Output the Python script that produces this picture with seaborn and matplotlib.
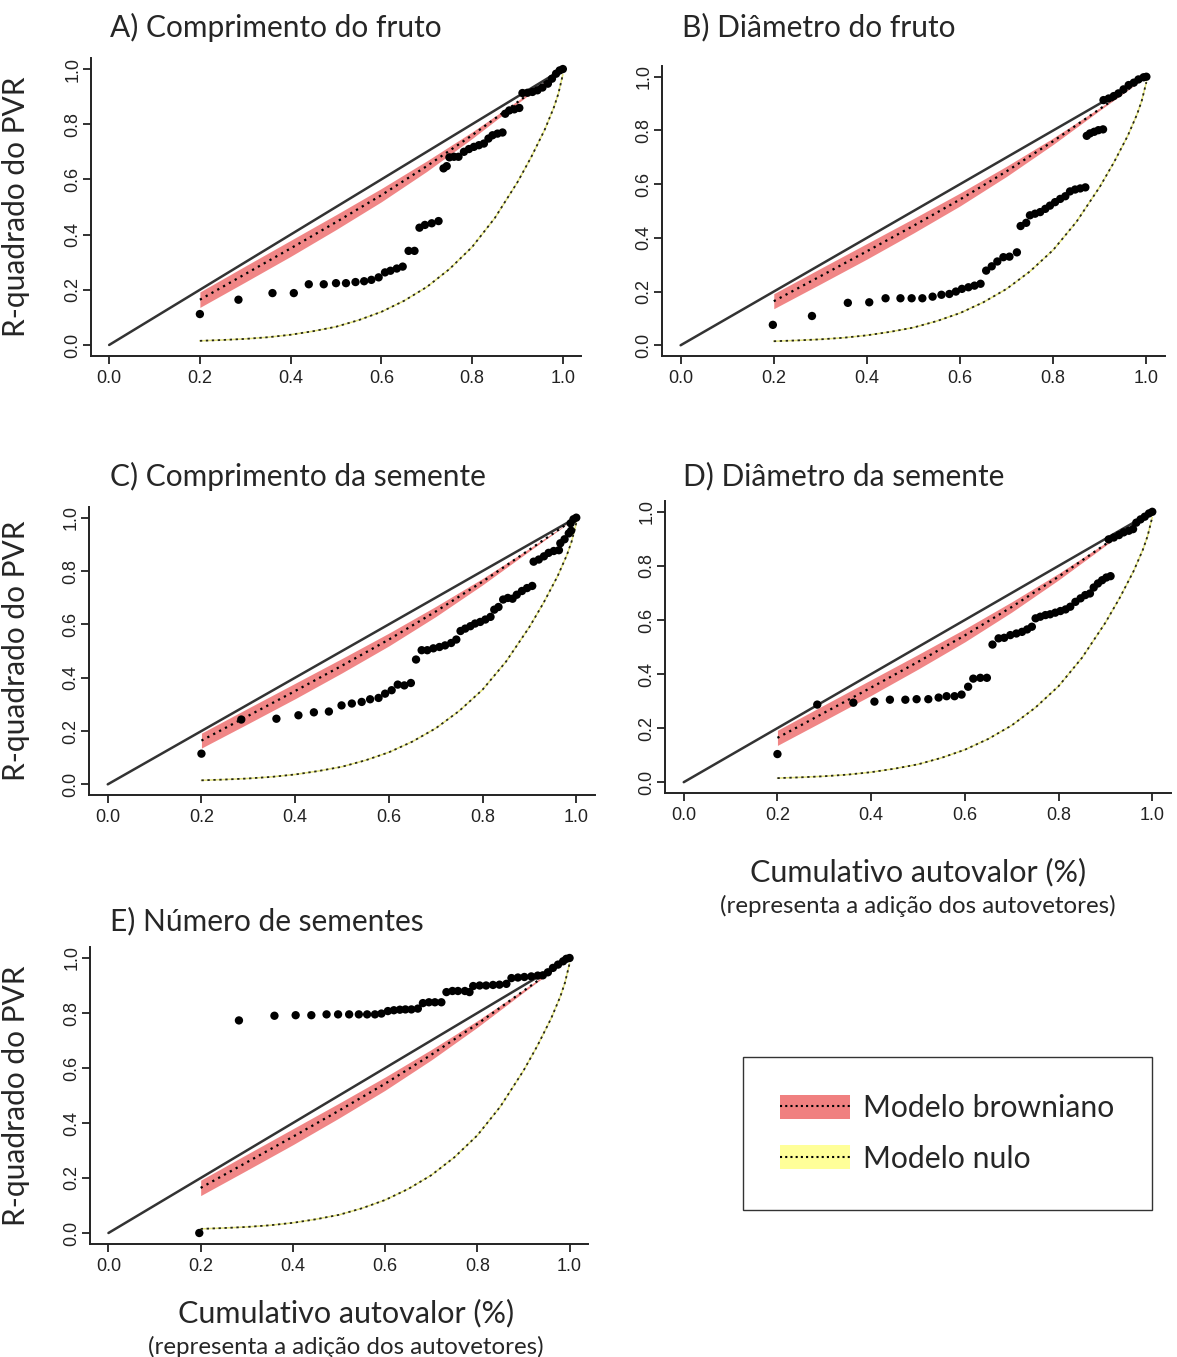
import pandas as pd
import seaborn as sns
import matplotlib.pyplot as plt
from matplotlib.patches import Patch
from matplotlib.lines import Line2D

sns.set_style('ticks')
plt.rcParams['font.family'] = ['Liberation Sans', 'DejaVu Sans']
plt.rcParams['axes.linewidth'] = 1.4

W, H = 1177, 1357
LABEL_FONT = ['Lato', 'DejaVu Sans']

titles = ['A) Comprimento do fruto', 'B) Diâmetro do fruto',
          'C) Comprimento da semente', 'D) Diâmetro da semente',
          'E) Número de sementes']
tick_vals = [0.0, 0.2, 0.4, 0.6, 0.8, 1.0]
tick_labels = ['0.0', '0.2', '0.4', '0.6', '0.8', '1.0']

# expected R2 under brownian motion (centre and half width of the band)
brown_x = [0.2, 0.3, 0.4, 0.5, 0.6, 0.7, 0.8, 0.9, 1.0]
brown_y = [0.164, 0.257, 0.35, 0.445, 0.543, 0.648, 0.76, 0.88, 1.0]
brown_hw = [0.028, 0.029, 0.029, 0.027, 0.024, 0.019, 0.012, 0.005, 0.0]

# expected R2 under the null model
null_x = [0.2, 0.25, 0.3, 0.35, 0.4, 0.45, 0.5, 0.55, 0.6, 0.65, 0.7, 0.75, 0.8,
          0.85, 0.9, 0.93, 0.96, 0.98, 0.99, 1.0]
null_y = [0.015, 0.018, 0.022, 0.028, 0.037, 0.05, 0.066, 0.09, 0.12, 0.16, 0.21,
          0.275, 0.355, 0.46, 0.59, 0.68, 0.78, 0.86, 0.91, 0.98]

# observed PVR R2 (cumulative eigenvalue, R2)
a_x = [0.2, 0.285, 0.36, 0.407, 0.44, 0.473, 0.5, 0.522, 0.543, 0.562, 0.578, 0.594,
       0.608, 0.62, 0.634, 0.647, 0.66, 0.673, 0.684, 0.696, 0.711, 0.726, 0.737, 0.744,
       0.75, 0.76, 0.77, 0.782, 0.793, 0.804, 0.815, 0.826, 0.836, 0.845, 0.856, 0.867,
       0.873, 0.882, 0.893, 0.904, 0.911, 0.922, 0.933, 0.944, 0.955, 0.967, 0.976,
       0.985, 0.993, 1.0]
a_y = [0.112, 0.164, 0.188, 0.188, 0.22, 0.22, 0.224, 0.224, 0.228, 0.231, 0.236, 0.245,
       0.263, 0.269, 0.277, 0.284, 0.341, 0.341, 0.425, 0.435, 0.441, 0.449, 0.64, 0.648,
       0.68, 0.682, 0.682, 0.70, 0.71, 0.718, 0.724, 0.73, 0.748, 0.76, 0.766, 0.77,
       0.838, 0.85, 0.854, 0.859, 0.913, 0.914, 0.917, 0.923, 0.933, 0.947, 0.965,
       0.983, 0.995, 1.0]

b_x = [0.198, 0.282, 0.359, 0.405, 0.44, 0.472, 0.496, 0.519, 0.541, 0.56, 0.577, 0.591,
       0.604, 0.618, 0.631, 0.644, 0.656, 0.668, 0.68, 0.693, 0.706, 0.722, 0.73, 0.742,
       0.75, 0.761, 0.772, 0.783, 0.793, 0.804, 0.815, 0.826, 0.836, 0.847, 0.858, 0.869,
       0.872, 0.879, 0.888, 0.897, 0.907, 0.908, 0.919, 0.93, 0.94, 0.951, 0.962, 0.973,
       0.983, 0.994, 1.0]
b_y = [0.076, 0.109, 0.158, 0.16, 0.175, 0.175, 0.175, 0.175, 0.181, 0.188, 0.191, 0.2,
       0.21, 0.216, 0.222, 0.229, 0.278, 0.294, 0.312, 0.328, 0.33, 0.346, 0.444, 0.456,
       0.484, 0.49, 0.496, 0.508, 0.52, 0.533, 0.545, 0.555, 0.573, 0.58, 0.584, 0.588,
       0.78, 0.789, 0.795, 0.801, 0.804, 0.913, 0.919, 0.928, 0.938, 0.953, 0.969, 0.978,
       0.99, 0.998, 1.0]

c_x = [0.2, 0.285, 0.36, 0.407, 0.44, 0.472, 0.499, 0.521, 0.542, 0.56, 0.578, 0.592,
       0.606, 0.619, 0.633, 0.647, 0.658, 0.67, 0.682, 0.695, 0.708, 0.72, 0.733, 0.744,
       0.753, 0.763, 0.774, 0.784, 0.795, 0.806, 0.817, 0.825, 0.834, 0.844, 0.854, 0.864,
       0.873, 0.884, 0.895, 0.906, 0.909, 0.92, 0.931, 0.941, 0.952, 0.963, 0.966, 0.975,
       0.984, 0.989, 0.988, 0.994, 1.0]
c_y = [0.115, 0.243, 0.246, 0.259, 0.27, 0.273, 0.296, 0.303, 0.309, 0.319, 0.324, 0.34,
       0.353, 0.374, 0.371, 0.38, 0.468, 0.503, 0.503, 0.51, 0.515, 0.521, 0.53, 0.543,
       0.575, 0.584, 0.593, 0.603, 0.609, 0.618, 0.628, 0.655, 0.665, 0.693, 0.699, 0.696,
       0.711, 0.725, 0.736, 0.744, 0.835, 0.843, 0.855, 0.868, 0.875, 0.878, 0.904, 0.919,
       0.941, 0.951, 0.979, 0.994, 1.0]

d_x = [0.2, 0.285, 0.362, 0.407, 0.44, 0.473, 0.497, 0.522, 0.544, 0.561, 0.578, 0.593,
       0.607, 0.618, 0.633, 0.647, 0.659, 0.672, 0.684, 0.697, 0.71, 0.722, 0.733, 0.743,
       0.751, 0.761, 0.772, 0.782, 0.793, 0.804, 0.815, 0.825, 0.836, 0.847, 0.857, 0.867,
       0.875, 0.884, 0.893, 0.902, 0.911, 0.907, 0.918, 0.929, 0.939, 0.95, 0.959, 0.966,
       0.975, 0.984, 0.993, 1.0]
d_y = [0.104, 0.287, 0.294, 0.298, 0.305, 0.305, 0.307, 0.307, 0.313, 0.318, 0.318, 0.324,
       0.353, 0.383, 0.386, 0.386, 0.509, 0.532, 0.534, 0.544, 0.55, 0.556, 0.565, 0.575,
       0.606, 0.612, 0.618, 0.621, 0.627, 0.633, 0.639, 0.649, 0.667, 0.68, 0.692, 0.698,
       0.72, 0.735, 0.747, 0.757, 0.762, 0.898, 0.905, 0.914, 0.924, 0.93, 0.936, 0.96,
       0.972, 0.982, 0.994, 1.0]

e_x = [0.197, 0.283, 0.36, 0.406, 0.44, 0.473, 0.498, 0.522, 0.543, 0.561, 0.578, 0.592,
       0.606, 0.619, 0.632, 0.644, 0.657, 0.671, 0.682, 0.695, 0.708, 0.722, 0.733, 0.746,
       0.758, 0.773, 0.783, 0.791, 0.805, 0.819, 0.834, 0.848, 0.863, 0.874, 0.888, 0.902,
       0.917, 0.931, 0.942, 0.953, 0.964, 0.975, 0.986, 0.993, 1.0]
e_y = [0.0, 0.773, 0.79, 0.792, 0.792, 0.795, 0.795, 0.795, 0.795, 0.795, 0.795, 0.798,
       0.807, 0.81, 0.812, 0.813, 0.813, 0.816, 0.836, 0.839, 0.839, 0.839, 0.876, 0.88,
       0.88, 0.88, 0.876, 0.898, 0.9, 0.9, 0.902, 0.903, 0.906, 0.927, 0.929, 0.931,
       0.933, 0.936, 0.937, 0.948, 0.964, 0.976, 0.988, 0.997, 1.0]

panels_x = [a_x, b_x, c_x, d_x, e_x]
panels_y = [a_y, b_y, c_y, d_y, e_y]

# axes boxes in pixels: left, right, top, bottom
boxes = [(91, 581, 58, 356), (662, 1165, 66, 356), (89, 595, 507, 795),
         (665, 1171, 501, 793), (90, 588, 947, 1244)]
title_pos = [(110, 27), (682, 27), (110, 476), (683, 476), (110, 921)]
show_ylabel = [True, False, True, False, True]

RED = '#F08080'
YELLOW = '#FFFF99'

fig = plt.figure(figsize=(W / 100, H / 100), dpi=100)

brown = pd.DataFrame({'x': brown_x, 'y': brown_y, 'hw': brown_hw})
null = pd.DataFrame({'x': null_x, 'y': null_y})

for i in range(5):
    l, r, t, b = boxes[i]
    ax = fig.add_axes([l / W, 1 - b / H, (r - l) / W, (b - t) / H])
    ax.fill_between(brown['x'], brown['y'] - brown['hw'], brown['y'] + brown['hw'],
                    color=RED, lw=0, alpha=0.95, zorder=1)
    sns.lineplot(x=[0, 1], y=[0, 1], ax=ax, color='#333333', lw=1.8, zorder=2)
    sns.lineplot(data=null, x='x', y='y', ax=ax, color='#E6E680', lw=1.1, zorder=2)
    sns.lineplot(data=null, x='x', y='y', ax=ax, color='#26261a', lw=1.3,
                 linestyle=(0, (1.3, 2.0)), zorder=3)
    sns.lineplot(data=brown, x='x', y='y', ax=ax, color='black', lw=1.6,
                 linestyle=(0, (1.0, 2.0)), zorder=3)
    pts = pd.DataFrame({'x': panels_x[i], 'y': panels_y[i]})
    sns.scatterplot(data=pts, x='x', y='y', ax=ax, color='black', s=36,
                    edgecolor='none', legend=False, zorder=4)

    ax.set_xlim(-0.04, 1.04)
    ax.set_ylim(-0.04, 1.04)
    ax.set_xticks(tick_vals)
    ax.set_xticklabels(tick_labels)
    ax.set_yticks(tick_vals)
    ax.set_yticklabels(tick_labels, rotation=90, va='center')
    ax.tick_params(length=6, width=1.3, labelsize=13, colors='#222222')
    ax.tick_params(axis='x', pad=4)
    ax.tick_params(axis='y', pad=1)
    ax.set_xlabel('')
    ax.set_ylabel('')
    sns.despine(ax=ax)
    for s in ['left', 'bottom']:
        ax.spines[s].set_color('#222222')

    if show_ylabel[i]:
        ax.set_ylabel('R-quadrado do PVR', fontsize=21.5, family=LABEL_FONT)
        ax.yaxis.set_label_coords((30 - l) / (r - l), 0.5)

    tx, ty = title_pos[i]
    fig.text(tx / W, 1 - ty / H, titles[i], fontsize=21.5, family=LABEL_FONT,
             ha='left', va='center')

# x axis captions
for cx, cy in [(918, 872), (346, 1313)]:
    fig.text(cx / W, 1 - cy / H, 'Cumulativo autovalor (%)', fontsize=22,
             family=LABEL_FONT, ha='center', va='center')
    fig.text(cx / W, 1 - (cy + 34) / H, '(representa a adição dos autovetores)',
             fontsize=17.3, family=LABEL_FONT, ha='center', va='center')

handles = [(Patch(facecolor=RED, edgecolor='none'),
            Line2D([], [], color='black', lw=1.5, linestyle=(0, (1, 1.5)))),
           (Patch(facecolor=YELLOW, edgecolor='none'),
            Line2D([], [], color='black', lw=1.5, linestyle=(0, (1, 1.5))))]
leg = fig.legend(handles, ['Modelo browniano', 'Modelo nulo'], loc='center',
                 bbox_to_anchor=(947.5 / W, 1 - 1133.5 / H),
                 prop={'family': LABEL_FONT, 'size': 21.7}, frameon=True,
                 fancybox=False, borderpad=1.25, labelspacing=0.75,
                 handlelength=2.3, handleheight=0.85, handletextpad=0.45)
leg.get_frame().set_edgecolor('black')
leg.get_frame().set_linewidth(1.0)

plt.savefig('out.png', dpi=100)
